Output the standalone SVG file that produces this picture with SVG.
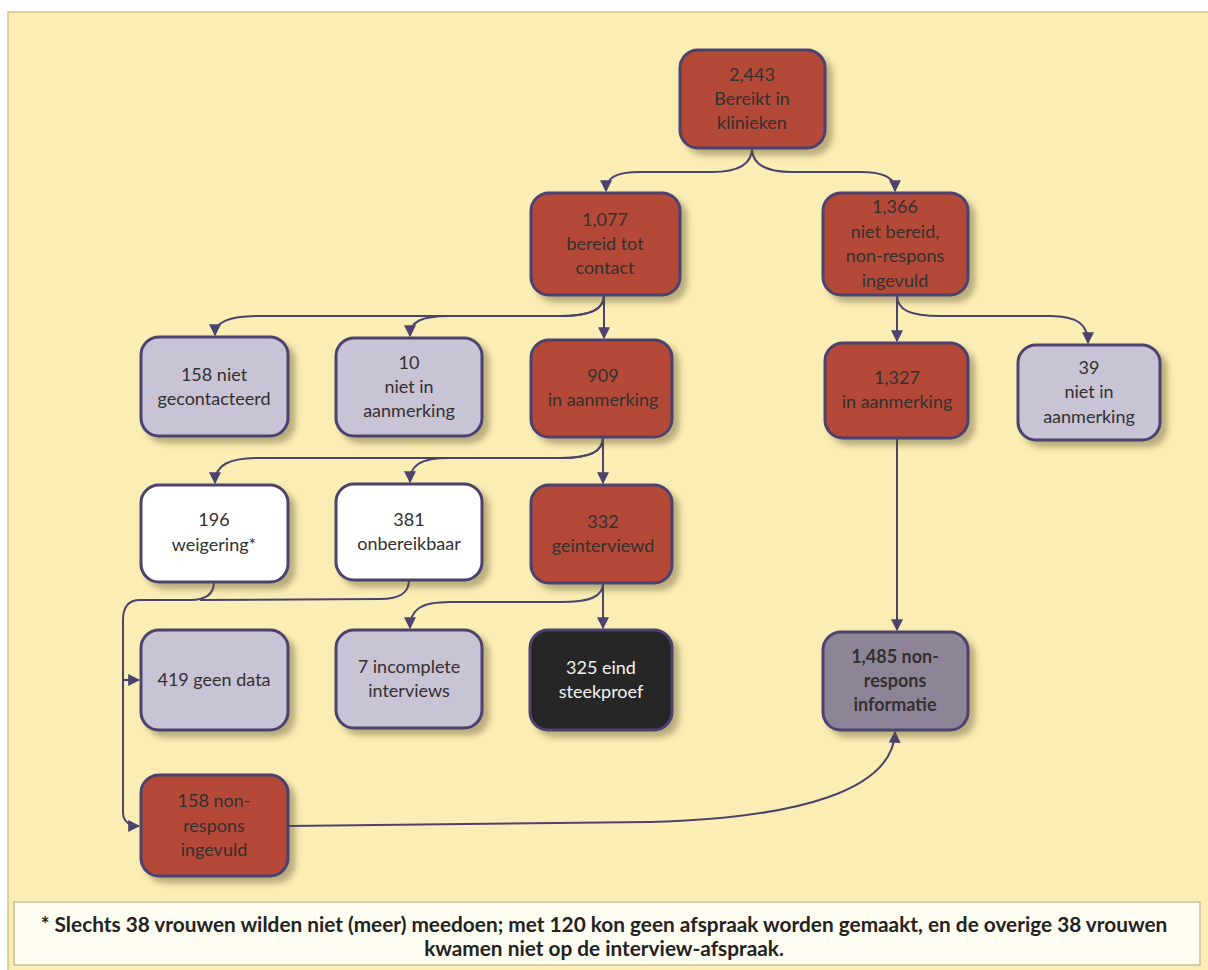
<svg xmlns="http://www.w3.org/2000/svg" width="1208" height="970" viewBox="0 0 1208 970">
<defs>
<filter id="sh" x="-10%" y="-10%" width="130%" height="130%">
<feDropShadow dx="6" dy="6" stdDeviation="3" flood-color="#5a4a20" flood-opacity="0.4"/>
</filter>
<marker id="ar" viewBox="0 0 10 10" refX="9" refY="5" markerWidth="12" markerHeight="12" markerUnits="userSpaceOnUse" orient="auto">
<path d="M0,0 L10,5 L0,10 z" fill="#4b426e"/>
</marker>
<style>
.box{stroke:#4b426e;stroke-width:3;filter:url(#sh)}
.red{fill:#b44a38}
.grey{fill:#c9c3d6}
.white{fill:#ffffff}
.black{fill:#262626}
.dgrey{fill:#8e8498}
text{font-family:Lato,"Open Sans","Liberation Sans",sans-serif;font-size:18px;fill:#333030;text-anchor:middle}
.w{fill:#f2f2f2}
.b{font-weight:bold}
.con path{fill:none;stroke:#4b426e;stroke-width:2}
.foot{font-size:20.8px;fill:#222;font-weight:bold}
</style>
</defs>
<rect x="0" y="0" width="1208" height="970" fill="#ffffff"/>
<rect x="8" y="12" width="1202" height="960" fill="#fbeeb5" stroke="#d8c283" stroke-width="1.5"/>

<g class="con">
<path d="M752,148 C752,166 735,172 712,172 L640,172 C615,172 606,178 606,191" marker-end="url(#ar)"/>
<path d="M752,148 C752,166 769,172 792,172 L860,172 C885,172 895,178 895,191" marker-end="url(#ar)"/>
<path d="M604,295 C604,310 590,316 560,316 L260,316 C228,316 215,322 215,335" marker-end="url(#ar)"/>
<path d="M604,295 C604,310 590,316 560,316 L450,316 C420,316 410,322 410,336" marker-end="url(#ar)"/>
<path d="M604,295 L604,338" marker-end="url(#ar)"/>
<path d="M897,295 L897,341" marker-end="url(#ar)"/>
<path d="M897,295 C897,310 910,316 940,316 L1050,316 C1078,316 1088,325 1088,343" marker-end="url(#ar)"/>
<path d="M603,437 C603,452 590,458 560,458 L260,458 C228,458 215,465 215,483" marker-end="url(#ar)"/>
<path d="M603,437 C603,452 590,458 560,458 L450,458 C420,458 410,465 410,482" marker-end="url(#ar)"/>
<path d="M603,437 L603,483" marker-end="url(#ar)"/>
<path d="M897,438 L897,630" marker-end="url(#ar)"/>
<path d="M603,583 C603,597 590,602 560,602 L450,602 C420,602 410,610 410,628" marker-end="url(#ar)"/>
<path d="M603,583 L603,628" marker-end="url(#ar)"/>
<path d="M214,582 C214,595 205,600 190,600 L140,600 C128,600 123,608 123,620 L123,812 C123,822 130,826 139,826" marker-end="url(#ar)"/>
<path d="M409,580 C409,593 400,599 380,599 L200,600"/>
<path d="M123,680 L139,680" marker-end="url(#ar)"/>
<path d="M288,826 L650,822 C800,818 893,790 895,732" marker-end="url(#ar)"/>
</g>

<g id="n1"><rect class="box red" x="680" y="50" width="145" height="98" rx="18"/>
<text x="752" y="81">2,443</text><text x="752" y="105">Bereikt in</text><text x="752" y="129">klinieken</text></g>
<g id="n2"><rect class="box red" x="531" y="193" width="149" height="102" rx="18"/>
<text x="605" y="226">1,077</text><text x="605" y="250">bereid tot</text><text x="605" y="274">contact</text></g>
<g id="n3"><rect class="box red" x="823" y="193" width="145" height="102" rx="18"/>
<text x="895" y="213">1,366</text><text x="895" y="237.5">niet bereid,</text><text x="895" y="262">non-respons</text><text x="895" y="286.5">ingevuld</text></g>
<g id="n4"><rect class="box grey" x="141" y="337" width="147" height="99" rx="18"/>
<text x="214" y="381">158 niet</text><text x="214" y="405">gecontacteerd</text></g>
<g id="n5"><rect class="box grey" x="336" y="338" width="146" height="98" rx="18"/>
<text x="409" y="369">10</text><text x="409" y="393">niet in</text><text x="409" y="417">aanmerking</text></g>
<g id="n6"><rect class="box red" x="531" y="340" width="141" height="97" rx="18"/>
<text x="603" y="382">909</text><text x="603" y="406">in aanmerking</text></g>
<g id="n7"><rect class="box red" x="825" y="343" width="143" height="95" rx="18"/>
<text x="897" y="384">1,327</text><text x="897" y="408">in aanmerking</text></g>
<g id="n8"><rect class="box grey" x="1018" y="345" width="142" height="95" rx="18"/>
<text x="1089" y="374">39</text><text x="1089" y="398">niet in</text><text x="1089" y="423">aanmerking</text></g>
<g id="n9"><rect class="box white" x="141" y="485" width="147" height="97" rx="18"/>
<text x="214" y="526">196</text><text x="214" y="551">weigering*</text></g>
<g id="n10"><rect class="box white" x="336" y="484" width="146" height="96" rx="18"/>
<text x="409" y="526">381</text><text x="409" y="550">onbereikbaar</text></g>
<g id="n11"><rect class="box red" x="531" y="485" width="141" height="98" rx="18"/>
<text x="603" y="528">332</text><text x="603" y="552">geinterviewd</text></g>
<g id="n12"><rect class="box grey" x="141" y="630" width="147" height="100" rx="18"/>
<text x="214" y="686">419 geen data</text></g>
<g id="n13"><rect class="box grey" x="336" y="630" width="146" height="98" rx="18"/>
<text x="409" y="673">7 incomplete</text><text x="409" y="697">interviews</text></g>
<g id="n14"><rect class="box black" x="530" y="630" width="142" height="100" rx="18"/>
<text class="w" x="601" y="674">325 eind</text><text class="w" x="601" y="698">steekproef</text></g>
<g id="n15"><rect class="box dgrey" x="823" y="632" width="145" height="98" rx="18"/>
<text class="b" x="895" y="663">1,485 non-</text><text class="b" x="895" y="687">respons</text><text class="b" x="895" y="711">informatie</text></g>
<g id="n16"><rect class="box red" x="141" y="775" width="147" height="101" rx="18"/>
<text x="214" y="807">158 non-</text><text x="214" y="831.5">respons</text><text x="214" y="856">ingevuld</text></g>

<g id="footnote">
<rect x="14" y="902" width="1186" height="63" fill="#fffdf2" stroke="#c8bfa0" stroke-width="1.5"/>
<text class="foot" x="604" y="932">* Slechts 38 vrouwen wilden niet (meer) meedoen; met 120 kon geen afspraak worden gemaakt, en de overige 38 vrouwen</text>
<text class="foot" x="604" y="956">kwamen niet op de interview-afspraak.</text>
</g>
</svg>
